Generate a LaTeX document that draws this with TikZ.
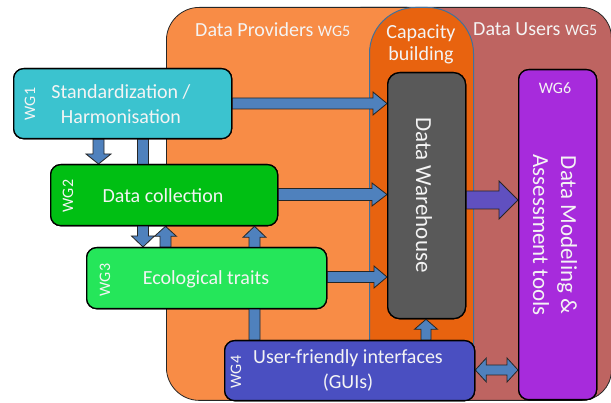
\documentclass[tikz,border=0pt]{standalone}
\usepackage{fontspec}
\setmainfont{Carlito}
\usetikzlibrary{calc}
\definecolor{provider}{HTML}{F88C46}
\definecolor{capcol}{HTML}{E8630F}
\definecolor{capline}{HTML}{41719C}
\definecolor{users}{HTML}{BE6461}
\definecolor{wgone}{HTML}{3BC3CF}
\definecolor{wgtwo}{HTML}{00BF13}
\definecolor{wgthree}{HTML}{25E65A}
\definecolor{wgfour}{HTML}{4A4FC1}
\definecolor{dwcol}{HTML}{595959}
\definecolor{wgsix}{HTML}{A72BDC}
\definecolor{arrowblue}{HTML}{4F81BD}
\definecolor{arrowpurple}{HTML}{6050C0}
\definecolor{txt}{HTML}{F4F4F4}
% block arrow: #1 style, #2 start, #3 end, #4 shaft half width, #5 head half width, #6 head length
\newcommand\blockarrow[6][]{%
  \path (#3) coordinate (ba-t) ($(#3)!#6!(#2)$) coordinate (ba-h) (#2) coordinate (ba-s);
  \filldraw[#1] ($(ba-s)!#4!90:(ba-t)$) -- ($(ba-h)!#4!90:(ba-t)$) -- ($(ba-h)!#5!90:(ba-t)$)
    -- (ba-t) -- ($(ba-h)!#5!-90:(ba-t)$) -- ($(ba-h)!#4!-90:(ba-t)$) -- ($(ba-s)!#4!-90:(ba-t)$) -- cycle;}
% double block arrow
\newcommand\dblockarrow[6][]{%
  \path (#3) coordinate (ba-t) ($(#3)!#6!(#2)$) coordinate (ba-h) (#2) coordinate (ba-s) ($(#2)!#6!(#3)$) coordinate (ba-g);
  \filldraw[#1] (ba-s) -- ($(ba-g)!#5!-90:(ba-s)$) -- ($(ba-g)!#4!-90:(ba-s)$) -- ($(ba-h)!#4!90:(ba-t)$) -- ($(ba-h)!#5!90:(ba-t)$)
    -- (ba-t) -- ($(ba-h)!#5!-90:(ba-t)$) -- ($(ba-h)!#4!-90:(ba-t)$) -- ($(ba-g)!#4!90:(ba-s)$) -- ($(ba-g)!#5!90:(ba-s)$) -- cycle;}
\begin{document}
\begin{tikzpicture}[x=1pt,y=-1pt,
  region/.style={draw=black!85, line width=0.8pt, anchor=north west, inner sep=0pt},
  box/.style={draw=black, line width=1.3pt, rounded corners=10pt, anchor=north west, inner sep=0pt},
  maintext/.style={text=txt, font=\fontsize{20}{25}\selectfont, align=center, inner sep=0pt},
  bigtext/.style={text=txt, font=\fontsize{23}{28}\selectfont, align=center, inner sep=0pt, rotate=-90},
  wgtext/.style={text=txt, font=\fontsize{16}{19}\selectfont, inner sep=0pt},
  regtext/.style={text=txt, font=\fontsize{20}{22}\selectfont, align=center, inner sep=0pt},
  bluearrow/.style={fill=arrowblue, draw=black!85, line width=0.8pt, line join=miter},
  purplearrow/.style={fill=arrowpurple, draw=black!85, line width=0.8pt, line join=miter}]
\useasboundingbox (0,0) rectangle (611,403);
\fill[white] (0,0) rectangle (611,403);

% background regions
\node[region, fill=users, rounded corners=30pt, minimum width=281pt, minimum height=393pt] (usersreg) at (330,7) {};
\node[region, fill=provider, rounded corners=33pt, minimum width=274pt, minimum height=393pt] (provreg) at (166,7) {};
\node[region, fill=capcol, draw=capline, line width=1pt, rounded corners=46pt, minimum width=104pt, minimum height=388pt] (capreg) at (369,7) {};

\node[regtext, anchor=west] (provlbl) at (195,30) {Data Providers {\fontsize{16}{19}\selectfont WG5}};
\node[regtext] (caplbl) at (421,44) {Capacity\\building};
\node[regtext, anchor=west] (userlbl) at (473,29) {Data Users {\fontsize{16}{19}\selectfont WG5}};

% box nodes (placed first for coordinates, drawn later on top)
\path
  node[box, minimum width=218pt, minimum height=70pt] (wg1) at (13,68) {}
  node[box, minimum width=227pt, minimum height=61pt] (wg2) at (50,164) {}
  node[box, minimum width=240pt, minimum height=61pt] (wg3) at (86,247) {}
  node[box, minimum width=250pt, minimum height=60pt] (wg4) at (224,340) {}
  node[box, rounded corners=12pt, minimum width=78pt, minimum height=246pt] (dw) at (387,72) {}
  node[box, minimum width=78pt, minimum height=330pt] (wg6) at (518,69) {};

% arrows
\blockarrow[bluearrow]{wg1.east |- 0,103.5}{dw.west |- 0,103.5}{5.5pt}{11.5pt}{14pt}
\blockarrow[bluearrow]{wg2.east |- 0,194.5}{dw.west |- 0,194.5}{6pt}{11.5pt}{15pt}
\blockarrow[bluearrow]{wg3.east |- 0,277}{dw.west |- 0,277}{5.5pt}{11pt}{13pt}
\blockarrow[bluearrow]{98.5,0 |- wg1.south}{98.5,0 |- wg2.north}{5.5pt}{12.5pt}{10pt}
\blockarrow[bluearrow]{143,0 |- wg1.south}{143,0 |- wg3.north}{5.5pt}{11.5pt}{11pt}
\blockarrow[bluearrow]{165.5,0 |- wg3.north}{165.5,0 |- wg2.south}{5.5pt}{11pt}{10pt}
\blockarrow[bluearrow]{254.5,0 |- wg4.north}{254.5,0 |- wg2.south}{5.5pt}{11.5pt}{11pt}
\blockarrow[bluearrow]{426,0 |- wg4.north}{426,0 |- dw.south}{5pt}{11.5pt}{10pt}
\dblockarrow[bluearrow]{wg4.east |- 0,370}{wg6.west |- 0,370}{5pt}{12pt}{11pt}
\blockarrow[purplearrow]{dw.east |- 0,200}{wg6.west |- 0,200}{9pt}{19pt}{19pt}

% boxes drawn on top
\node[box, fill=wgone, minimum width=218pt, minimum height=70pt] at (13,68) {};
\node[box, fill=wgtwo, minimum width=227pt, minimum height=61pt] at (50,164) {};
\node[box, fill=wgthree, minimum width=240pt, minimum height=61pt] at (86,247) {};
\node[box, fill=wgfour, minimum width=250pt, minimum height=60pt] at (224,340) {};
\node[box, fill=dwcol, rounded corners=12pt, minimum width=78pt, minimum height=246pt] at (387,72) {};
\node[box, fill=wgsix, minimum width=78pt, minimum height=330pt] at (518,69) {};

% texts
\node[wgtext, rotate=90] (wg1lbl) at (30,104) {WG1};
\node[maintext] (wg1txt) at (121,104) {Standardization /\\Harmonisation};
\node[wgtext, rotate=90] (wg2lbl) at (68,196) {WG2};
\node[maintext] (wg2txt) at (163,196) {Data collection};
\node[wgtext, rotate=90] (wg3lbl) at (105,280) {WG3};
\node[maintext] (wg3txt) at (206,279) {Ecological traits};
\node[wgtext, rotate=90] (wg4lbl) at (236,372) {WG4};
\node[maintext] (wg4txt) at (348,370) {User-friendly interfaces\\(GUIs)};
\node[bigtext] (dwtxt) at (424,195) {Data Warehouse};
\node[wgtext] (wg6lbl) at (555,88) {WG6};
\node[bigtext] (wg6txt) at (555,235) {Data Modeling \&\\Assessment tools};
\end{tikzpicture}
\end{document}
